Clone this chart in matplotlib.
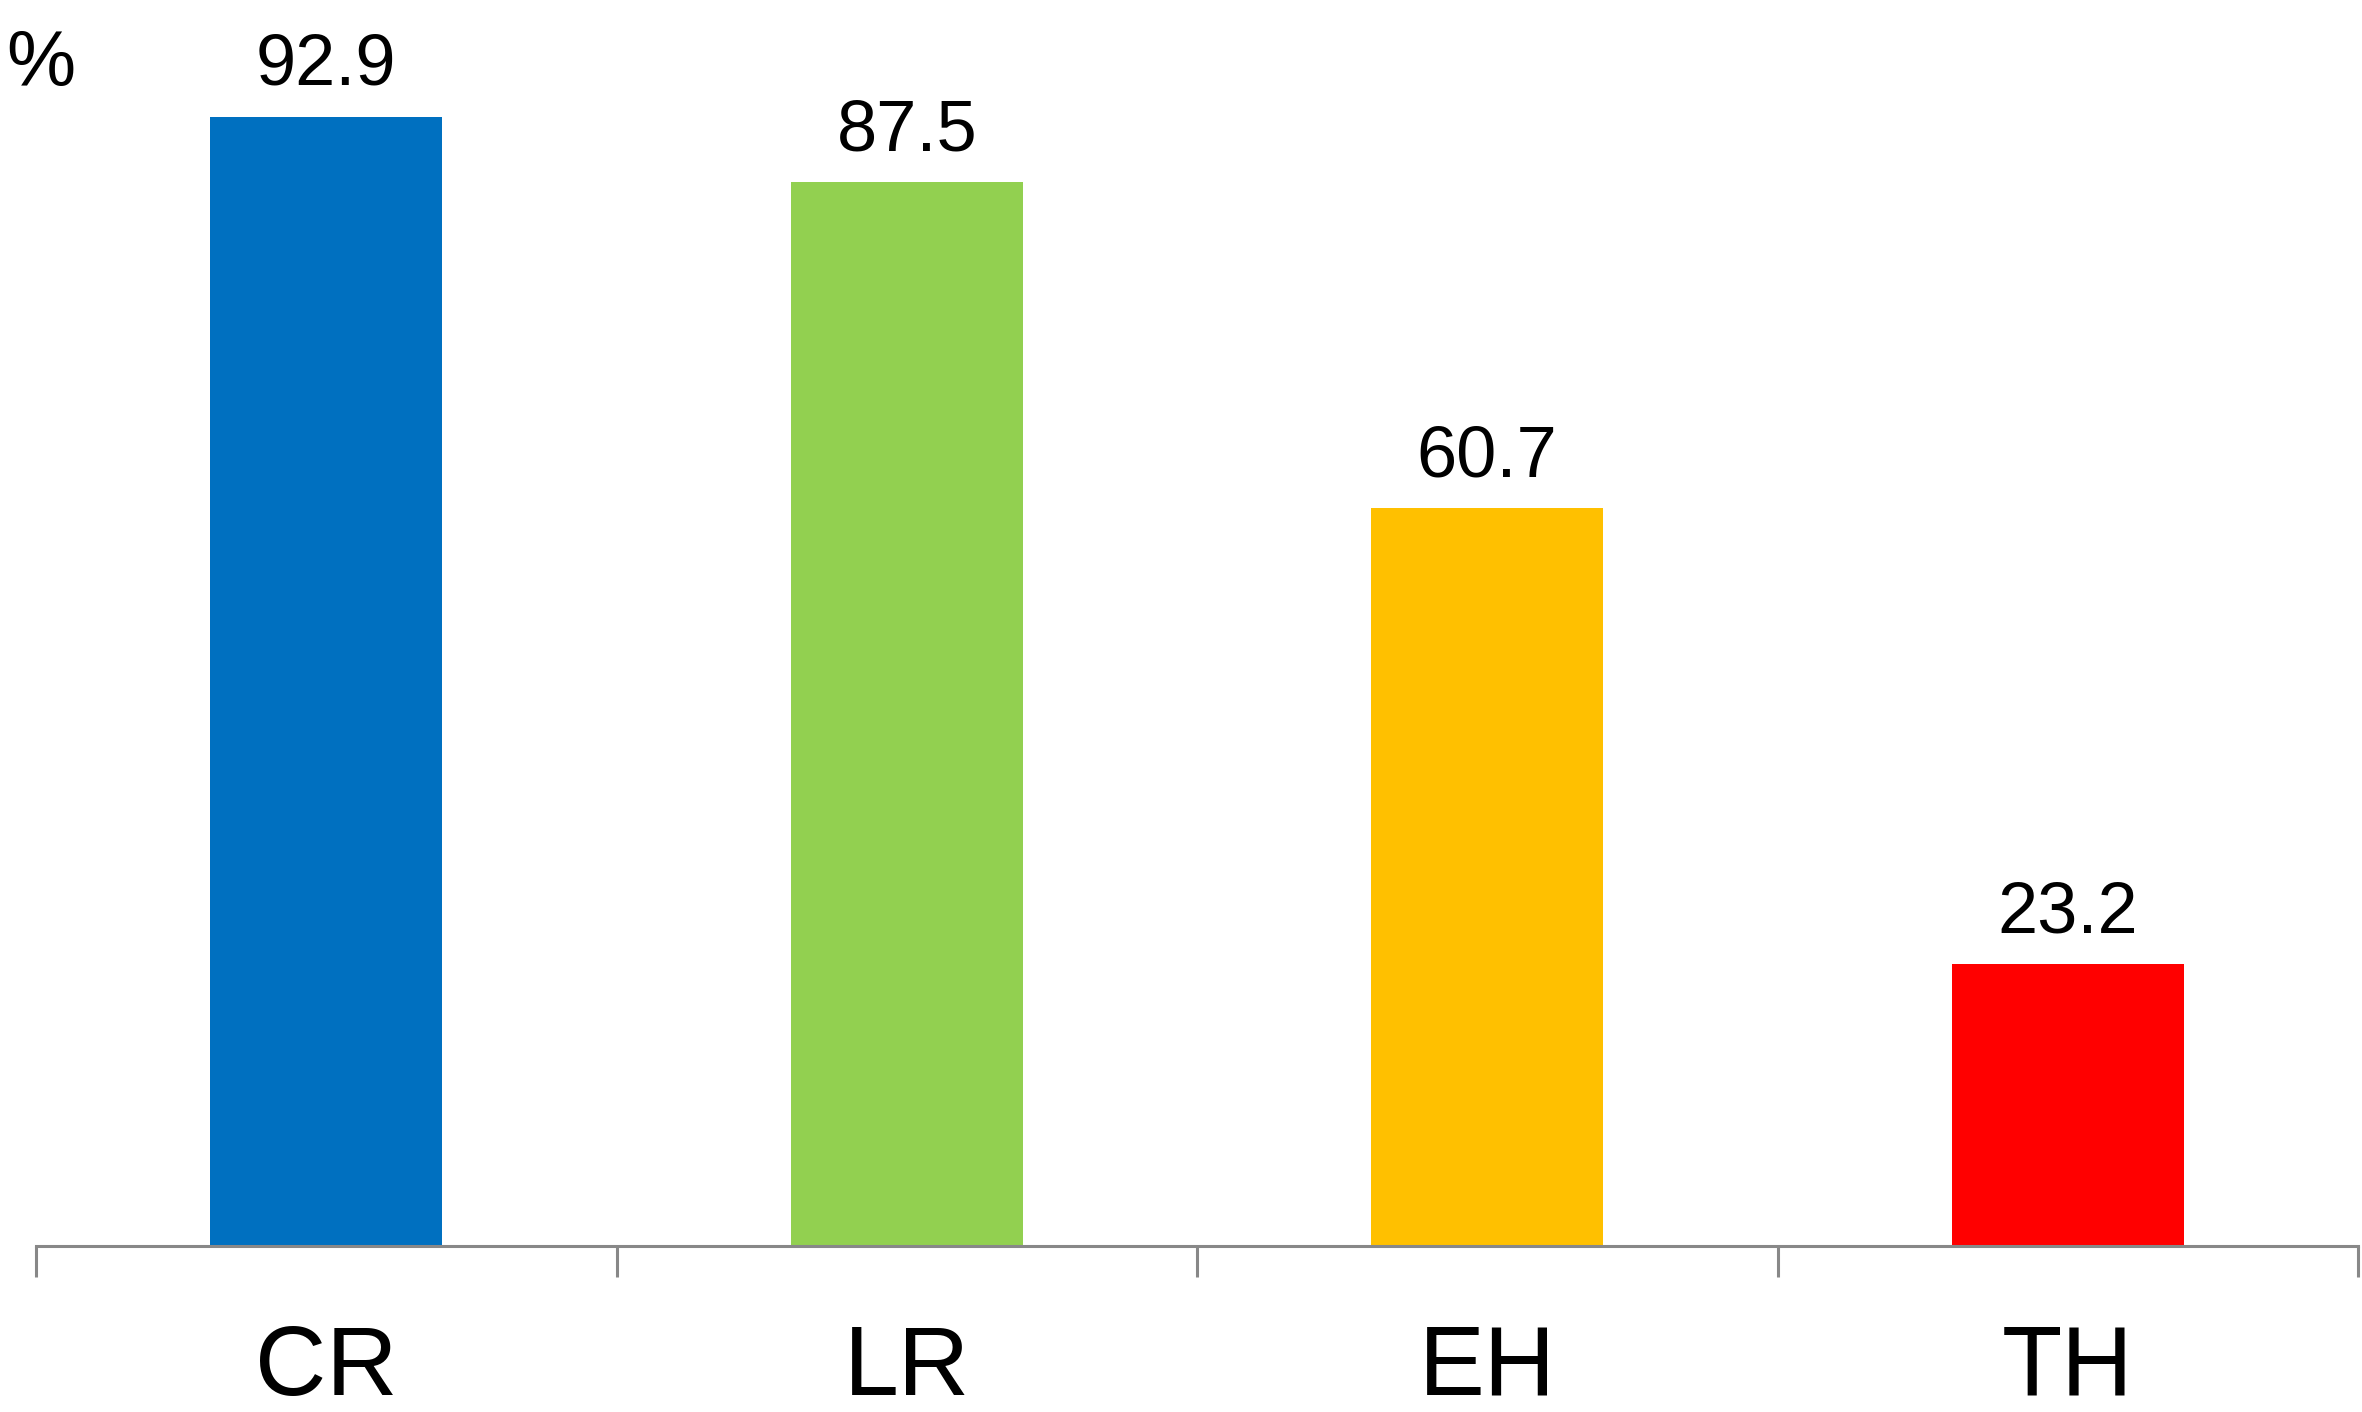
import matplotlib
matplotlib.use("Agg")
import matplotlib.pyplot as plt
from matplotlib.ticker import FixedLocator

categorias = ["CR", "LR", "EH", "TH"]
valores = [92.9, 87.5, 60.7, 23.2]
cores = ["#0070C0", "#92D050", "#FFC000", "#FF0000"]

plt.rcParams["font.family"] = ["Liberation Sans", "DejaVu Sans"]

fig = plt.figure(figsize=(23.62, 14.12), dpi=100)
ax = fig.add_axes([36 / 2362, 166 / 1412, (2358 - 36) / 2362, 1246 / 1412])

x = range(len(categorias))
ax.bar(x, valores, width=0.4, color=cores)
for xi, v in zip(x, valores):
    ax.annotate(f"{v:.1f}", (xi, v), xytext=(0, 23), textcoords="offset points",
                ha="center", va="baseline", fontsize=52)

ax.set_xlim(-0.5, len(categorias) - 0.5)
ax.set_ylim(0, 102.5)

for lado in ("top", "right", "left"):
    ax.spines[lado].set_visible(False)
ax.spines["bottom"].set_color("#888888")
ax.spines["bottom"].set_linewidth(2.2)
ax.set_yticks([])

ax.set_xticks(list(x))
ax.set_xticklabels(categorias, fontsize=71)
ax.tick_params(axis="x", which="major", length=0, pad=56)
ax.xaxis.set_minor_locator(FixedLocator([i - 0.5 for i in range(len(categorias) + 1)]))
ax.tick_params(axis="x", which="minor", length=22, width=2.2, color="#888888",
               direction="out")

fig.text(6 / 2362, 1 - 86 / 1412, "%", fontsize=56, ha="left", va="baseline")

fig.savefig("out.png", dpi=100)
